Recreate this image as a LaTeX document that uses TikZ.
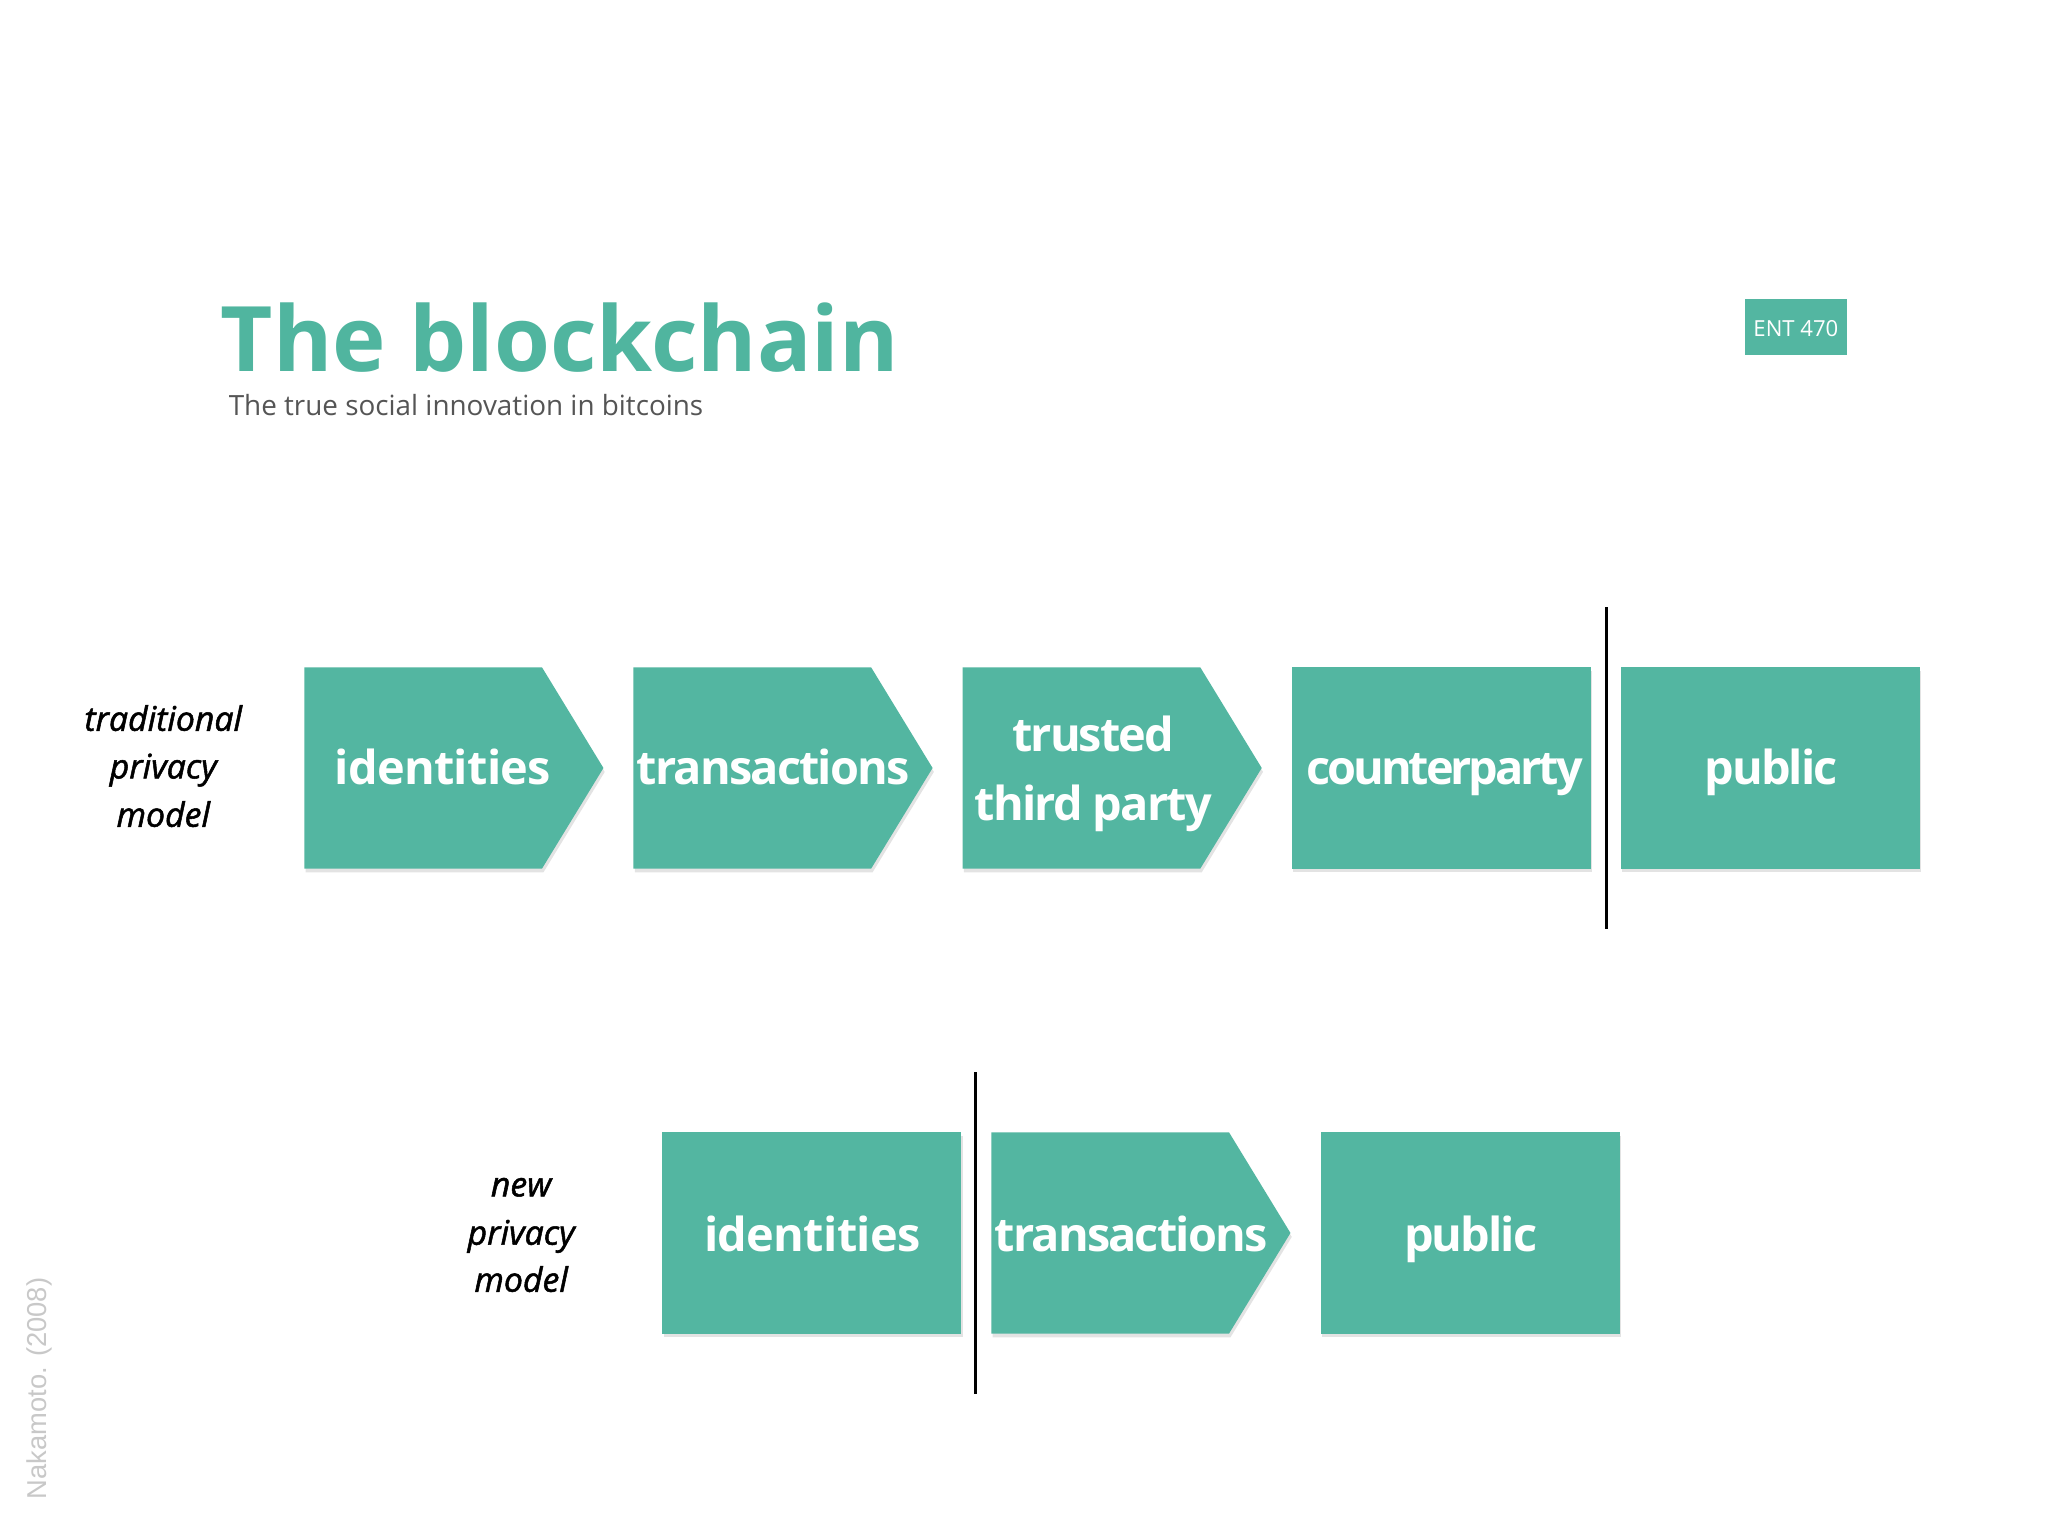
\documentclass[tikz,border=0pt]{standalone}
\usepackage{fontspec}
\setmainfont{Open Sans}
\IfFontExistsTF{Open Sans SemiBold}
  {\newfontfamily\boxfont[LetterSpace=-3.0]{Open Sans SemiBold}\def\boxsize{37.5}}
  {\newfontfamily\boxfont[LetterSpace=-4.0,UprightFont=*,BoldFont=*]{Open Sans Bold}\def\boxsize{36}}
\newfontfamily\labfont[ItalicFeatures={FakeBold=1.5}]{Open Sans}
\newfontfamily\citefont{Liberation Sans}
\usetikzlibrary{shadows}
\definecolor{tealbox}{HTML}{53B6A1}
\definecolor{titleteal}{HTML}{50B59F}
\definecolor{subgray}{HTML}{555555}
\definecolor{citegray}{HTML}{C8C8C8}
\begin{document}
\begin{tikzpicture}[x=1bp,y=1bp,
  stepshape/.style={fill=tealbox, drop shadow={shadow xshift=1bp,shadow yshift=-3bp,opacity=0.22}},
  boxtext/.style={text=white, inner sep=0, anchor=base, font=\boxfont\fontsize{\boxsize}{44}\selectfont},
  looser/.style={font=\boxfont\fontsize{\boxsize}{44}\selectfont\addfontfeatures{LetterSpace=-1.5}},
  tighter/.style={font=\boxfont\fontsize{\boxsize}{44}\selectfont\addfontfeatures{LetterSpace=-6.6}},
  labtext/.style={text=black, inner sep=0, anchor=base, font=\labfont\itshape\fontsize{26}{30}\selectfont},
  divider/.style={line width=2.5bp, black}]
\useasboundingbox (0,0) rectangle (1568,1176);
\fill[white] (0,0) rectangle (1568,1176);

% title
\node[anchor=base west, inner sep=0, text=titleteal, font=\bfseries\fontsize{69.5}{80}\selectfont] (title) at (169,891.4) {The blockchain};
\node[anchor=base west, inner sep=0, text=subgray, font=\fontsize{21.4}{24}\selectfont] (subtitle) at (175,858) {The true social innovation in bitcoins};
\fill[tealbox] (1336,904.4) rectangle (1414,947);
\node[anchor=base, inner sep=0, text=white, font=\fontsize{17}{20}\selectfont] (ent) at (1375,918.7) {ENT 470};

% row 1
\path[stepshape] (233,511) -- (415,511) -- (462,588) -- (415,665) -- (233,665) -- cycle;
\path[stepshape] (485,511) -- (667,511) -- (714,588) -- (667,665) -- (485,665) -- cycle;
\path[stepshape] (737,511) -- (919,511) -- (966,588) -- (919,665) -- (737,665) -- cycle;
\path[stepshape] (989,511) rectangle (1218,665);
\path[stepshape] (1241,511) rectangle (1470,665);
\node[boxtext, looser] (id1) at (339,575) {identities};
\node[boxtext] (tr1) at (592,575) {transactions};
\node[boxtext] (ttpa) at (837,600.5) {trusted};
\node[boxtext] (ttpb) at (837,548) {third party};
\node[boxtext, tighter] (cp1) at (1106,575) {counterparty};
\node[boxtext] (pub1) at (1356,575) {public};
\coordinate (d1top) at (1230,711);
\coordinate (d1bot) at (1230,465);
\draw[divider] (d1bot) -- (d1top);

\node[labtext] (tl1) at (125,616.5) {traditional};
\node[labtext] (tl2) at (125,580) {privacy};
\node[labtext] (tl3) at (125,543) {model};

% row 2
\path[stepshape] (507,155) rectangle (736,309);
\path[stepshape] (759,155) -- (941,155) -- (988,232) -- (941,309) -- (759,309) -- cycle;
\path[stepshape] (1011,155) rectangle (1240,309);
\node[boxtext, looser] (id2) at (622,218) {identities};
\node[boxtext] (tr2) at (866,218) {transactions};
\node[boxtext] (pub2) at (1126,218) {public};
\coordinate (d2top) at (747,355);
\coordinate (d2bot) at (747,109);
\draw[divider] (d2bot) -- (d2top);

\node[labtext] (nl1) at (399,260) {new};
\node[labtext] (nl2) at (399,223) {privacy};
\node[labtext] (nl3) at (399,187) {model};

% citation
\node[rotate=90, inner sep=0, text=citegray, font=\citefont\fontsize{21}{24}\selectfont] (cite) at (30,113) {Nakamoto. (2008)};
\end{tikzpicture}
\end{document}
